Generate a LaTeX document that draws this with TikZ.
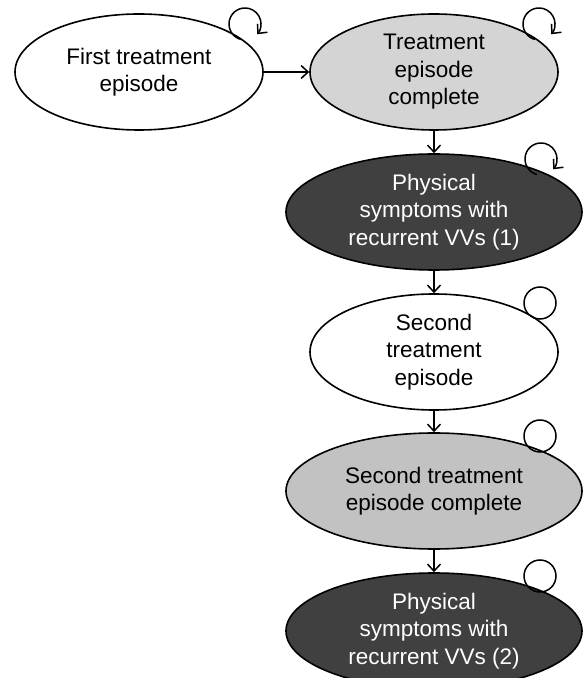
\documentclass[tikz,border=0pt]{standalone}
\usepackage{fontspec}
\setmainfont{Liberation Sans}
\usetikzlibrary{shapes.geometric,arrows.meta}

\definecolor{paleGrey}{RGB}{212,212,212}
\definecolor{midGrey}{RGB}{194,194,194}
\definecolor{darkGrey}{RGB}{64,64,64}

\begin{document}
\begin{tikzpicture}[x=1pt,y=1pt,
    state/.style={draw,ellipse,line width=1.6pt,inner sep=0pt,align=center,
      font=\fontsize{22.5}{27.5}\selectfont},
    small/.style={state,minimum width=248pt,minimum height=116pt},
    wide/.style={state,minimum width=296pt,minimum height=116pt},
    flow/.style={-{Straight Barb[length=7pt,width=13pt]},line width=1.5pt}]
        \useasboundingbox (0,0) rectangle (585,678);

        \node[small] (first) at (139,606) {First treatment\\episode};
        \node[small,fill=paleGrey] (firstdone) at (434,606) {Treatment\\episode\\complete};
        \node[wide,fill=darkGrey,text=white] (recur1) at (434,466) {Physical\\symptoms with\\recurrent VVs (1)};
        \node[small] (second) at (434,326) {Second\\treatment\\episode};
        \node[wide,fill=midGrey] (seconddone) at (434,187) {Second treatment\\episode complete};
        \node[wide,fill=darkGrey,text=white] (recur2) at (434,47) {Physical\\symptoms with\\recurrent VVs (2)};

        \draw[flow] (first) -- (firstdone);
        \draw[flow] (firstdone) -- (recur1);
        \draw[flow] (recur1) -- (second);
        \draw[flow] (second) -- (seconddone);
        \draw[flow] (seconddone) -- (recur2);

        % self loops
        \draw[flow] (first.center) ++(106,48) ++(255:16) arc[start angle=255,end angle=-40,radius=16];
        \draw[flow] (firstdone.center) ++(105,48) ++(255:16) arc[start angle=255,end angle=-40,radius=16];
        \draw[flow] (recur1.center) ++(107,53) ++(255:16) arc[start angle=255,end angle=-40,radius=16];
        \draw[line width=1.5pt] (second.center) ++(106,49) circle[radius=16];
        \draw[line width=1.5pt] (seconddone.center) ++(106,55) circle[radius=16];
        \draw[line width=1.5pt] (recur2.center) ++(106,55) circle[radius=16];
      \end{tikzpicture}
\end{document}
